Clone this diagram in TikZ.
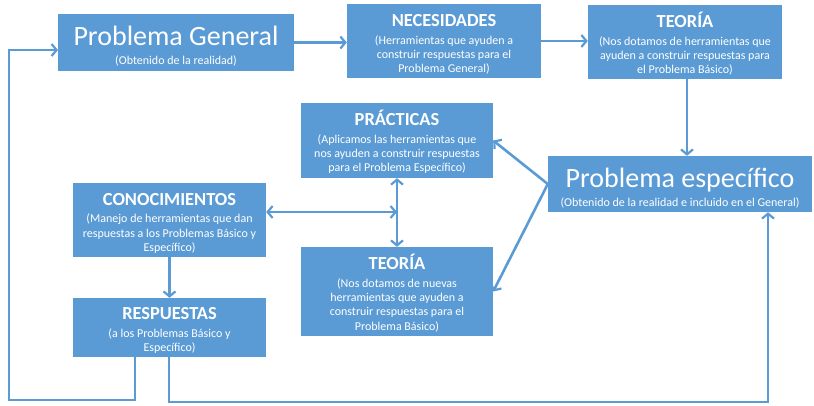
\documentclass[tikz,border=0pt]{standalone}
\usepackage{fontspec}
\setmainfont{Carlito}
\usetikzlibrary{arrows.meta}
\definecolor{boxblue}{HTML}{5B9BD5}
\definecolor{lineblue}{HTML}{5B9BD5}
\tikzset{
  box/.style={fill=boxblue, text=white, inner sep=0pt, align=center, anchor=center,
    font=\fontsize{12}{14.2}\selectfont},
  conn/.style={draw=lineblue, line width=2.6pt, -{Straight Barb[length=5pt,width=12pt,line width=2.2pt]}},
  dconn/.style={draw=lineblue, line width=2.6pt, {Straight Barb[length=5pt,width=12pt,line width=2.2pt]}-{Straight Barb[length=5pt,width=12pt,line width=2.2pt]}},
}
\newcommand{\ttl}[1]{\rule{0pt}{18.5pt}{\fontsize{18.4}{20}\selectfont\bfseries #1}\\[3.5pt]}
\newcommand{\bigttl}[1]{\rule{0pt}{27pt}{\fontsize{28}{30}\selectfont #1}\\[5pt]}
\begin{document}
\begin{tikzpicture}[x=1pt,y=-1pt]
\useasboundingbox (0,0) rectangle (814,405);
% boxes
\node[box, minimum width=236pt, minimum height=57pt] (pg) at (176,42.5)
  {\bigttl{Problema General}(Obtenido de la realidad)};
\node[box, minimum width=194pt, minimum height=74pt] (nec) at (444,41)
  {\ttl{NECESIDADES}(Herramientas que ayuden a\\construir respuestas para el\\Problema General)};
\node[box, minimum width=194pt, minimum height=74pt] (teo1) at (685,42)
  {\ttl{TEORÍA}(Nos dotamos de herramientas que\\ayuden a construir respuestas para\\el Problema Básico)};
\node[box, minimum width=192pt, minimum height=75pt] (pra) at (397,140.5)
  {\ttl{PRÁCTICAS}(Aplicamos las herramientas que\\nos ayuden a construir respuestas\\para el Problema Específico)};
\node[box, minimum width=264pt, minimum height=56pt] (pe) at (680,184)
  {\bigttl{Problema específico}(Obtenido de la realidad e incluido en el General)};
\node[box, minimum width=193pt, minimum height=74pt] (con) at (169.5,220)
  {\ttl{CONOCIMIENTOS}(Manejo de herramientas que dan\\respuestas a los Problemas Básico y\\Específico)};
\node[box, minimum width=193pt, minimum height=59pt] (res) at (169.5,327.5)
  {\ttl{RESPUESTAS}(a los Problemas Básico y\\Específico)};
\node[box, minimum width=192pt, minimum height=89pt] (teo2) at (397,291.5)
  {\ttl{TEORÍA}(Nos dotamos de nuevas\\herramientas que ayuden a\\construir respuestas para el\\Problema Básico)};
% helper coordinates
\coordinate (cj) at (397,212);
\coordinate (bl) at (9,400);
\coordinate (br) at (768,402);
\coordinate (pgin) at (58,50);
% connectors
\draw[conn] (pg.east) -- (pg.east -| nec.west);
\draw[conn] (nec.east) -- (nec.east -| teo1.west);
\draw[conn] (teo1.south -| 687,0) -- (pe.north -| 687,0);
\draw[conn] (pe.west) -- (pra.east);
\draw[conn] (pe.west) -- (teo2.east);
\draw[dconn] (pra.south) -- (teo2.north);
\draw[dconn] (con.east |- cj) -- (cj);
\draw[conn] (con.south) -- (res.north);
\draw[conn] (res.south -| 135,0) |- (bl) |- (pgin);
\draw[conn] (res.south -| 169,0) |- (br) -- (pe.south -| br);
\end{tikzpicture}
\end{document}
